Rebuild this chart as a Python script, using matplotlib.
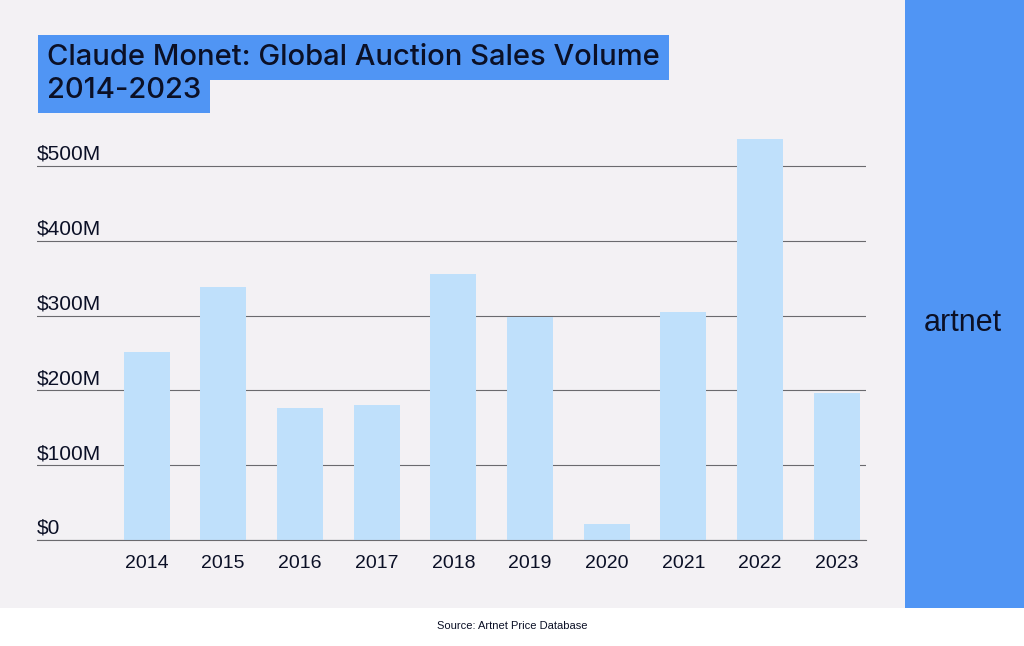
import matplotlib
matplotlib.use("Agg")
import matplotlib.pyplot as plt
from matplotlib.patches import Rectangle
import matplotlib.transforms as mtransforms

# Data
years = ["2014", "2015", "2016", "2017", "2018", "2019", "2020", "2021", "2022", "2023"]
sales_musd = [252, 338, 176, 180, 356, 298, 22, 305, 536, 197]
ytick_values = [0, 100, 200, 300, 400, 500]
ytick_labels = ["$0", "$100M", "$200M", "$300M", "$400M", "$500M"]

title_line1 = "Claude Monet: Global Auction Sales Volume"
title_line2 = "2014-2023"
source_text = "Source: Artnet Price Database"
brand = "artnet"

# Colours
BG = "#f3f1f4"
BLUE = "#5095f4"
BAR = "#bfe0fb"
INK = "#0b1026"
GRID = "#6a6a6e"

W, H = 1024, 646
fig = plt.figure(figsize=(W / 100, H / 100), dpi=100)
fig.patch.set_facecolor("white")

# background panels (figure pixel coords converted to fractions)
def px_rect(x0, y0, x1, y1, color):
    fig.patches.append(Rectangle((x0 / W, 1 - y1 / H), (x1 - x0) / W, (y1 - y0) / H,
                                 transform=fig.transFigure, facecolor=color,
                                 edgecolor="none", zorder=-5))

px_rect(0, 0, 905, 608, BG)
px_rect(905, 0, W, 608, BLUE)

# Axes placement
ax_left, ax_right = 37, 866
ax_bottom, ax_top = 540, 128.6
ax = fig.add_axes([ax_left / W, 1 - ax_bottom / H, (ax_right - ax_left) / W,
                   (ax_bottom - ax_top) / H], zorder=2)
ax.set_facecolor("none")

x = list(range(len(years)))
ax.bar(x, sales_musd, width=0.6, color=BAR, zorder=2)

ax.set_xlim(-1.428, 9.38)
ax.set_ylim(0, 550)
ax.set_yticks(ytick_values)
ax.yaxis.grid(True, color=GRID, linewidth=0.8, zorder=1)
ax.set_axisbelow(True)
ax.tick_params(axis="y", length=0, labelleft=False)
ax.set_xticks(x)
ax.set_xticklabels(years, fontsize=14, color=INK, family="Liberation Sans")
ax.tick_params(axis="x", length=0, pad=11)
for s in ax.spines.values():
    s.set_visible(False)

# baseline sits on the axes edge, keep it from being clipped
ax.axhline(0, color=GRID, linewidth=0.8, zorder=3, clip_on=False)

# y labels sitting above gridlines
trans = mtransforms.blended_transform_factory(ax.transAxes, ax.transData)
offset = mtransforms.ScaledTranslation(0, 1.5 / 72, fig.dpi_scale_trans)
for v, lab in zip(ytick_values, ytick_labels):
    ax.text(0, v, lab, transform=trans + offset, ha="left", va="bottom",
            fontsize=15, color=INK, family="Liberation Sans")

# Title with highlighted boxes
fig.text(47 / W, 1 - 65 / H, title_line1, fontsize=21, color=INK, family="Inter",
         weight="medium", va="baseline", ha="left", zorder=5,
         bbox=dict(boxstyle="square,pad=0.3", facecolor=BLUE, edgecolor="none"))
fig.text(47 / W, 1 - 98 / H, title_line2, fontsize=21, color=INK, family="Inter",
         weight="medium", va="baseline", ha="left", zorder=5,
         bbox=dict(boxstyle="square,pad=0.3", facecolor=BLUE, edgecolor="none"))

# brand and source
fig.text(963 / W, 1 - 323 / H, brand, fontsize=22, color=INK, family="Liberation Sans",
         ha="center", va="center")
fig.text(512 / W, 1 - 626 / H, source_text, fontsize=8, color=INK, family="Liberation Sans",
         ha="center", va="center")

fig.savefig("out.png", dpi=100, facecolor=fig.get_facecolor())
